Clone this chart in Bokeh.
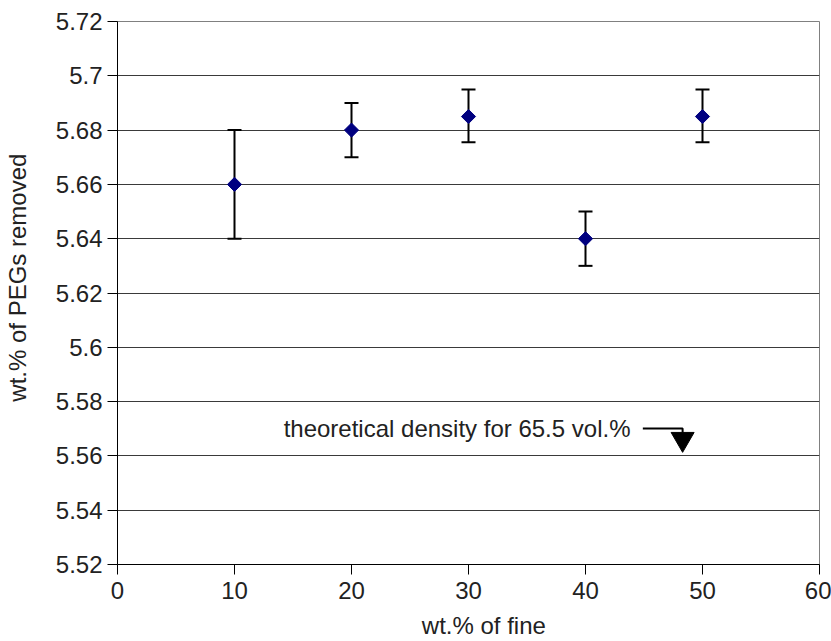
import numpy as np
from bokeh.plotting import figure
from bokeh.models import Range1d, FixedTicker, Whisker, TeeHead, ColumnDataSource
from bokeh.core.properties import value
from bokeh.embed import file_html
from bokeh.resources import INLINE

# ---- data ----
fine_wt = [10, 20, 30, 40, 50]
peg_removed = [5.660, 5.680, 5.685, 5.640, 5.685]
err_upper = [5.680, 5.690, 5.695, 5.650, 5.695]
err_lower = [5.640, 5.670, 5.6755, 5.630, 5.6755]

x_ticks = [0, 10, 20, 30, 40, 50, 60]
y_ticks = [5.52, 5.54, 5.56, 5.58, 5.60, 5.62, 5.64, 5.66, 5.68, 5.70, 5.72]
y_tick_labels = ["5.52", "5.54", "5.56", "5.58", "5.6", "5.62", "5.64",
                 "5.66", "5.68", "5.7", "5.72"]

# leading fixed-width spaces shift the titles off-centre, as in the original
PAD = "\u2002\u2002\u00a0"
x_title = "wt.% of fine"
y_title = "wt.% of PEGs removed"

annotation_text = "theoretical density for 65.5 vol.%"
annotation_x = 14.2
annotation_y = 5.5701
connector_x = [44.9, 48.3, 48.3]
connector_y = [5.5701, 5.5701, 5.5685]
arrow_x = [48.3]
arrow_y = [5.5662]

FONT = "Liberation Sans"
TXT = "#222222"
FS = "24px"

p = figure(width=831, height=641, output_backend="svg", toolbar_location=None,
           x_range=Range1d(0, 60), y_range=Range1d(5.52, 5.72))
p.min_border_left = 117
p.min_border_right = 12
p.min_border_top = 21
p.min_border_bottom = 77
p.background_fill_color = "white"
p.border_fill_color = "white"
p.outline_line_color = "#808080"
p.outline_line_width = 1

p.xgrid.grid_line_color = None
p.ygrid.grid_line_color = "#3a3a3a"
p.ygrid.grid_line_width = 1

p.xaxis.ticker = FixedTicker(ticks=x_ticks)
p.yaxis.ticker = FixedTicker(ticks=y_ticks)
p.yaxis.major_label_overrides = {t: l for t, l in zip(y_ticks, y_tick_labels)}

for ax in (p.xaxis[0], p.yaxis[0]):
    ax.axis_line_color = "black"
    ax.axis_line_width = 1
    ax.major_tick_line_color = "black"
    ax.major_tick_in = 0
    ax.major_tick_out = 10
    ax.minor_tick_line_color = None
    ax.major_label_text_font = FONT
    ax.major_label_text_font_size = FS
    ax.major_label_text_color = TXT
    ax.axis_label_text_font = FONT
    ax.axis_label_text_font_size = FS
    ax.axis_label_text_color = TXT
    ax.axis_label_text_font_style = "normal"

p.xaxis.axis_label = PAD + x_title
p.yaxis.axis_label = PAD + y_title
p.xaxis.major_label_standoff = 7
p.xaxis.axis_label_standoff = 10
p.yaxis.major_label_standoff = 5
p.yaxis.axis_label_standoff = 22

src = ColumnDataSource(dict(x=fine_wt, y=peg_removed, upper=err_upper, lower=err_lower))

w = Whisker(source=src, base="x", upper="upper", lower="lower",
            line_color="black", line_width=2,
            upper_head=TeeHead(size=14, line_color="black", line_width=2),
            lower_head=TeeHead(size=14, line_color="black", line_width=2))
p.add_layout(w)

p.scatter(x="x", y="y", source=src, marker="square", angle=np.pi / 4, size=10,
          fill_color="#000080", line_color="#000080", line_width=1)

# annotation
p.text(x=[annotation_x], y=[annotation_y], text=[annotation_text],
       text_font=value(FONT), text_font_size=FS, text_color=TXT,
       text_baseline="middle", text_align="left")
p.line(connector_x, connector_y, line_color="black", line_width=2)
p.scatter(arrow_x, arrow_y, marker="inverted_triangle", size=23,
          fill_color="black", line_color="black")

open("out.html", "w").write(file_html(p, INLINE))
